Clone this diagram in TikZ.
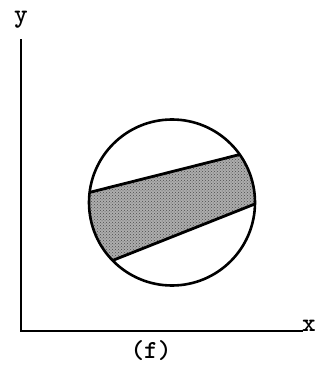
\documentclass[tikz,border=0pt]{standalone}
\usetikzlibrary{calc,patterns}

\begin{document}
\begin{tikzpicture}[x=1pt,y=-1pt,line width=2.6pt,font=\fontsize{26}{26}\selectfont\ttfamily\bfseries,
  axislabel/.style={inner sep=0pt,outer sep=0pt}]
  \useasboundingbox (0,0) rectangle (321,371);
  \coordinate (o) at (21,331);
  \coordinate (ytop) at (21,40);
  \coordinate (xend) at (302,331);
  \coordinate (c) at (172,202.5);
  \node[axislabel,anchor=base west] (xlab) at (302,331) {x};
  \node[axislabel,anchor=base] (ylab) at (21,22.5) {y};
  \node[axislabel,anchor=base] (caption) at (151,358.5) {(f)};
  \draw[line cap=rect] (ytop) -- (o) -- (xend);
  % shaded band cut off by the circle
  \fill[black!32] ($(c)+(187:83)$) arc[start angle=187,end angle=135.7,radius=83]
       -- ($(c)+(1:83)$) arc[start angle=1,end angle=-35.3,radius=83] -- cycle;
  \fill[pattern=crosshatch dots,pattern color=black!70] ($(c)+(187:83)$) arc[start angle=187,end angle=135.7,radius=83]
       -- ($(c)+(1:83)$) arc[start angle=1,end angle=-35.3,radius=83] -- cycle;
  \draw[line width=2.8pt] ($(c)+(187:83)$) -- ($(c)+(-35.3:83)$);
  \draw[line width=2.8pt] ($(c)+(135.7:83)$) -- ($(c)+(1:83)$);
  \draw (c) circle[radius=83];
\end{tikzpicture}
\end{document}
